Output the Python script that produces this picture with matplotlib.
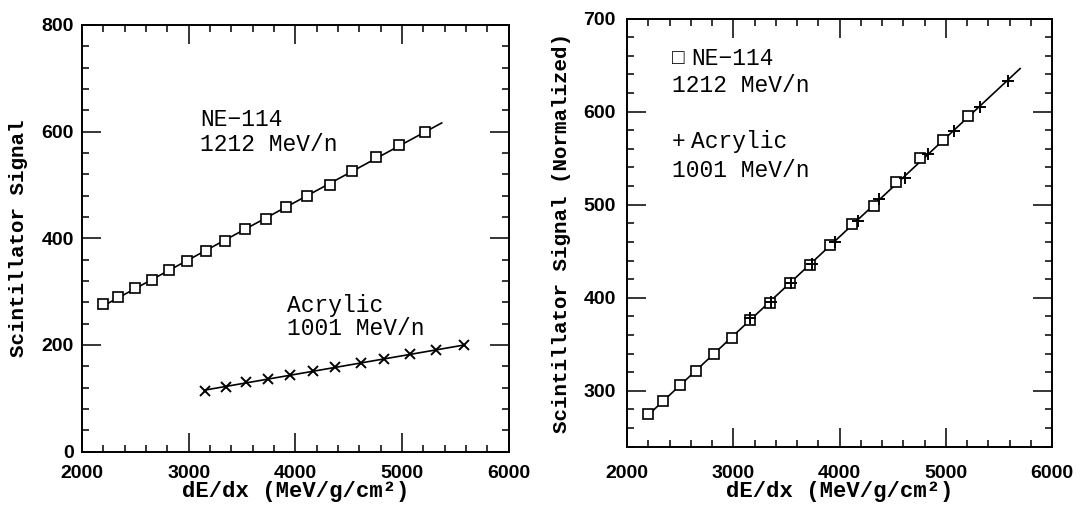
import matplotlib
matplotlib.use("Agg")
import matplotlib.pyplot as plt
from matplotlib.ticker import MultipleLocator
import numpy as np

# dE/dx positions (MeV/g/cm2) shared by both panels
neDedx = [2195, 2337, 2495, 2652, 2818, 2984, 3160, 3343, 3530, 3723,
          3914, 4113, 4325, 4530, 4760, 4972, 5213]
acDedx = [3156, 3351, 3541, 3740, 3953, 4170, 4368, 4615, 4834, 5076, 5320, 5581]

# left panel: raw scintillator signal
neSignal = [277, 289, 306, 321, 340, 357, 376, 394, 417, 437,
            459, 479, 499, 526, 553, 575, 600]
acSignal = [114, 122, 130, 136, 144, 151, 158, 166, 173, 183, 191, 199]

# right panel: normalized signal
neNorm = [275, 289, 306, 321, 339, 357, 376, 394, 416, 435,
          457, 479, 499, 524, 550, 570, 595]
acNorm = [378, 395, 416, 436, 460, 483, 506, 529, 554, 579, 605, 633]

# where the fitted lines stop
neFitEnd = 5372
normFitEnd = 5700

MONO = ["Liberation Mono", "DejaVu Sans Mono"]
SANS = "Liberation Sans"


def styleAxes(ax, ymin, ymax, ymajor, yminor):
    ax.set_xlim(2000, 6000)
    ax.set_ylim(ymin, ymax)
    ax.xaxis.set_major_locator(MultipleLocator(1000))
    ax.xaxis.set_minor_locator(MultipleLocator(200))
    ax.yaxis.set_major_locator(MultipleLocator(ymajor))
    ax.yaxis.set_minor_locator(MultipleLocator(yminor))
    ax.tick_params(which="both", direction="in", top=True, right=True, width=1.1)
    ax.tick_params(which="major", length=14)
    ax.tick_params(which="minor", length=5)
    ax.tick_params(axis="x", pad=10)
    ax.tick_params(axis="y", pad=6)
    for lab in ax.get_xticklabels() + ax.get_yticklabels():
        lab.set_fontfamily(SANS)
        lab.set_fontweight("bold")
        lab.set_fontsize(14)
    for sp in ax.spines.values():
        sp.set_linewidth(1.4)
    ax.set_xlabel("dE/dx (MeV/g/cm²)", family=MONO, fontweight="bold", fontsize=16, va="center")


def fitLine(ax, xs, ys, xEnd):
    slope, intercept = np.polyfit(xs, ys, 1)
    fx = np.array([xs[0], xEnd])
    ax.plot(fx, fx * slope + intercept, color="k", lw=1.2, zorder=2)


def putText(ax, x, y, s, size=16.5):
    ax.text(x, y, s, family=MONO, fontsize=size, va="baseline", ha="left")


fig = plt.figure(figsize=(10.8, 5.12), dpi=100)

# ---- left panel
ax1 = fig.add_axes([0.0759, 0.118, 0.3951, 0.8332])
fitLine(ax1, neDedx, neSignal, neFitEnd)
fitLine(ax1, acDedx, acSignal, acDedx[-1])
ax1.plot(neDedx, neSignal, "s", ms=6.5, mfc="white", mec="k", mew=1.2, ls="none", zorder=3)
ax1.plot(acDedx, acSignal, "x", ms=6.5, mec="k", mew=1.4, ls="none", zorder=3)
styleAxes(ax1, 0, 800, 200, 40)
ax1.set_ylabel("Scintillator Signal", family=MONO, fontweight="bold", fontsize=15, va="center")
ax1.yaxis.set_label_coords(-0.149, 0.5)
ax1.xaxis.set_label_coords(0.5, -0.094)
putText(ax1, 3106, 610, "NE−114")
putText(ax1, 3106, 563, "1212 MeV/n")
putText(ax1, 3918, 262, "Acrylic")
putText(ax1, 3918, 218, "1001 MeV/n")

# ---- right panel
ax2 = fig.add_axes([0.5806, 0.1279, 0.3935, 0.8356])
fitLine(ax2, neDedx + acDedx, neNorm + acNorm, normFitEnd)
ax2.plot(neDedx, neNorm, "s", ms=6.5, mfc="white", mec="k", mew=1.2, ls="none", zorder=3)
ax2.plot(acDedx, acNorm, "+", ms=8, mec="k", mew=1.4, ls="none", zorder=4)
styleAxes(ax2, 240, 700, 100, 20)
ax2.set_ylabel("Scintillator Signal (Normalized)", family=MONO, fontweight="bold", fontsize=15, va="center")
ax2.yaxis.set_label_coords(-0.1536, 0.5)
ax2.xaxis.set_label_coords(0.5, -0.104)
ax2.tick_params(axis="x", pad=13)
ax2.tick_params(axis="y", pad=8)
putText(ax2, 2422, 651, "□", size=15)
putText(ax2, 2601, 650, "NE−114")
putText(ax2, 2422, 621, "1212 MeV/n")
putText(ax2, 2422, 561, "+")
putText(ax2, 2601, 561, "Acrylic")
putText(ax2, 2422, 530, "1001 MeV/n")

fig.savefig("out.png", dpi=100)
